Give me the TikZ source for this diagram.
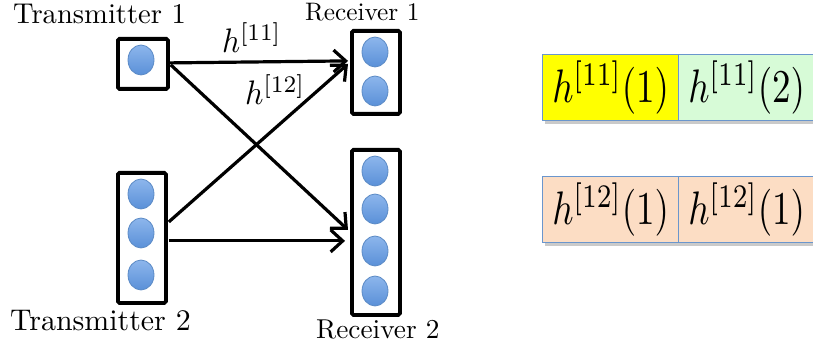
\RequirePackage{fix-cm}
\documentclass[tikz,border=0pt]{standalone}
\usepackage{graphicx}
\usetikzlibrary{arrows.meta,shapes.geometric,shadows,calc}
\definecolor{blobtop}{HTML}{8DB6EC}
\definecolor{blobbot}{HTML}{5A90D8}
\definecolor{blobline}{HTML}{5C8BC6}
\definecolor{cellline}{HTML}{6A96CD}
\definecolor{cellyellow}{HTML}{FFFF00}
\definecolor{cellgreen}{HTML}{D7FBD7}
\definecolor{cellpeach}{HTML}{FCDDC4}
\newcommand{\celltext}[1]{\raisebox{-2.5pt}{\scalebox{3.7}[4.7]{#1}}}
\tikzset{
  antbox/.style={draw=black, line width=3.8pt, rounded corners=1.5pt, inner sep=0pt, anchor=north west},
  blob/.style={ellipse, draw=blobline, line width=0.8pt, top color=blobtop, bottom color=blobbot, minimum width=26pt, minimum height=30pt, inner sep=0pt},
  link/.style={line width=3.2pt, -{Straight Barb[length=12pt,width=22pt,line width=3.2pt]}},
  lbl/.style={inner sep=0pt, anchor=base west},
  cell/.style={draw=cellline, line width=1.4pt, minimum width=136pt, minimum height=66pt, inner sep=0pt, anchor=north west,
    drop shadow={shadow xshift=2pt, shadow yshift=-3pt, opacity=0.35, fill=black!60}},
}
\begin{document}
\begin{tikzpicture}[x=1pt,y=-1pt]
\useasboundingbox (0,0) rectangle (813,347);
\clip (0,0) rectangle (813,347);
% boxes
\node[antbox, minimum width=50pt, minimum height=50pt] (t1) at (116,37) {};
\node[antbox, minimum width=48pt, minimum height=130pt] (t2) at (116,171) {};
\node[antbox, minimum width=48pt, minimum height=83pt] (r1) at (350,29) {};
\node[antbox, minimum width=48pt, minimum height=165pt] (r2) at (350,148) {};
% antennas
\node[blob] (t1a) at (141,60) {};
\node[blob] (t2a) at (141,194) {};
\node[blob] (t2b) at (141,233) {};
\node[blob] (t2c) at (141,275) {};
\node[blob] (r1a) at (375,52) {};
\node[blob] (r1b) at (375,91) {};
\node[blob] (r2a) at (375,171) {};
\node[blob] (r2b) at (375,209) {};
\node[blob] (r2c) at (375,251) {};
\node[blob] (r2d) at (375,291) {};
% labels
\node[lbl] (lt1) at (13,24) {\scalebox{2.86}{Transmitter 1}};
\node[lbl] (lt2) at (10,330) {\scalebox{2.99}{Transmitter 2}};
\node[lbl] (lr1) at (305,21) {\scalebox{2.53}{Receiver 1}};
\node[lbl] (lr2) at (316,338) {\scalebox{2.73}{Receiver 2}};
% links
\draw[link] ($(t1.east)+(0,-1)$) -- ($(r1.west)+(-2,-11.5)$);
\draw[link] ($(t1.east)+(1,1)$) -- ($(r2.west)+(-2,-2.5)$);
\draw[link] ($(t2.east)+(1,-16)$) -- ($(r1.west)+(-2,-8.5)$);
\draw[link] ($(t2.east)+(1,3)$) -- ($(r2.west)+(-5,8.5)$);
% link labels
\node[lbl] (h11) at (222,53) {\scalebox{3.15}[3.4]{$h^{[11]}$}};
\node[lbl] (h12) at (245,105) {\scalebox{3.2}[3.4]{$h^{[12]}$}};
% cells
\node[cell, fill=cellyellow] (c11) at (542,54) {\celltext{$h^{[11]}(1)$}};
\node[cell, fill=cellgreen] (c12) at (678,54) {\celltext{$h^{[11]}(2)$}};
\node[cell, fill=cellpeach] (c21) at (542,176) {\celltext{$h^{[12]}(1)$}};
\node[cell, fill=cellpeach] (c22) at (678,176) {\celltext{$h^{[12]}(1)$}};
\end{tikzpicture}
\end{document}
